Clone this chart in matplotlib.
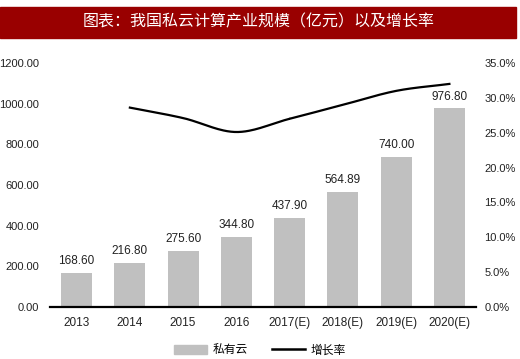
import numpy as np
import matplotlib.pyplot as plt
from matplotlib.lines import Line2D
from matplotlib.patches import Patch
from matplotlib.ticker import FuncFormatter

years = ['2013', '2014', '2015', '2016', '2017(E)', '2018(E)', '2019(E)', '2020(E)']
scale = [168.60, 216.80, 275.60, 344.80, 437.90, 564.89, 740.00, 976.80]
growth = [None, 28.6, 27.1, 25.1, 27.0, 29.0, 31.0, 32.0]

num_font = ['Liberation Sans', 'DejaVu Sans']
cjk_font = ['Noto Sans CJK SC', 'DejaVu Sans']


def smooth(xs, ys, n=30):
    # Catmull-Rom style smoothing like the office "smoothed line"
    xs = np.asarray(xs, float)
    ys = np.asarray(ys, float)
    px = np.concatenate([[2 * xs[0] - xs[1]], xs, [2 * xs[-1] - xs[-2]]])
    py = np.concatenate([[2 * ys[0] - ys[1]], ys, [2 * ys[-1] - ys[-2]]])
    ox, oy = [], []
    for i in range(1, len(px) - 2):
        t = np.linspace(0, 1, n)
        for p, o in ((px, ox), (py, oy)):
            p0, p1, p2, p3 = p[i - 1], p[i], p[i + 1], p[i + 2]
            o.extend(0.5 * ((2 * p1) + (-p0 + p2) * t
                            + (2 * p0 - 5 * p1 + 4 * p2 - p3) * t ** 2
                            + (-p0 + 3 * p1 - 3 * p2 + p3) * t ** 3))
    return np.array(ox), np.array(oy)


fig = plt.figure(figsize=(5.2, 3.59), dpi=100)
fig.patches.append(plt.Rectangle((0.0, 1 - 38 / 359), 0.992, 31 / 359,
                                 transform=fig.transFigure, color='#990000',
                                 zorder=0))
fig.text(0.497, 1 - 22 / 359, '图表：我国私云计算产业规模（亿元）以及增长率',
         color='white', fontsize=11.5, fontweight='medium', family=cjk_font,
         ha='center', va='center')

ax = fig.add_axes([50 / 520, 1 - 307 / 359, 426 / 520, 244 / 359])
x = np.arange(len(years))
ax.bar(x, scale, width=0.58, color='#c0c0c0', zorder=2)
for xi, v in zip(x, scale):
    ax.text(xi, v + 28, f'{v:.2f}', ha='center', va='bottom', fontsize=8.5,
            family=num_font, color='#222222')
ax.set_xlim(-0.5, len(years) - 0.5)
ax.set_ylim(0, 1200)
ax.set_yticks(np.arange(0, 1201, 200))
ax.yaxis.set_major_formatter(FuncFormatter(lambda v, p: f'{v:.2f}'))
ax.set_xticks(x)
ax.set_xticklabels(years)
for s in ['top', 'right', 'left']:
    ax.spines[s].set_visible(False)
ax.spines['bottom'].set_linewidth(1.6)
ax.tick_params(length=0, labelsize=8, colors='#222222')
ax.tick_params(axis='x', labelsize=8.5, pad=7)
ax.tick_params(axis='y', pad=8)
for lab in ax.get_xticklabels() + ax.get_yticklabels():
    lab.set_family(num_font)

ax2 = ax.twinx()
gx = [xi for xi, g in zip(x, growth) if g is not None]
gy = [g for g in growth if g is not None]
sx, sy = smooth(gx, gy)
ax2.plot(sx, sy, color='black', lw=1.6, zorder=3)
ax2.set_ylim(0, 35)
ax2.set_yticks(np.arange(0, 35.1, 5))
ax2.yaxis.set_major_formatter(FuncFormatter(lambda v, p: f'{v:.1f}%'))
for s in ['top', 'right', 'left', 'bottom']:
    ax2.spines[s].set_visible(False)
ax2.tick_params(length=0, labelsize=8, colors='#222222', pad=6)
for lab in ax2.get_yticklabels():
    lab.set_family(num_font)

handles = [Patch(color='#c0c0c0'), Line2D([], [], color='black', lw=1.8)]
fig.legend(handles, ['私有云', '增长率'], loc='center', ncol=2,
           bbox_to_anchor=(0.5, 1 - 350 / 359), frameon=False,
           prop={'family': cjk_font, 'size': 8.5}, handlelength=2.8,
           handleheight=0.7, columnspacing=2.0, handletextpad=0.5)

fig.savefig('out.png', dpi=100)
